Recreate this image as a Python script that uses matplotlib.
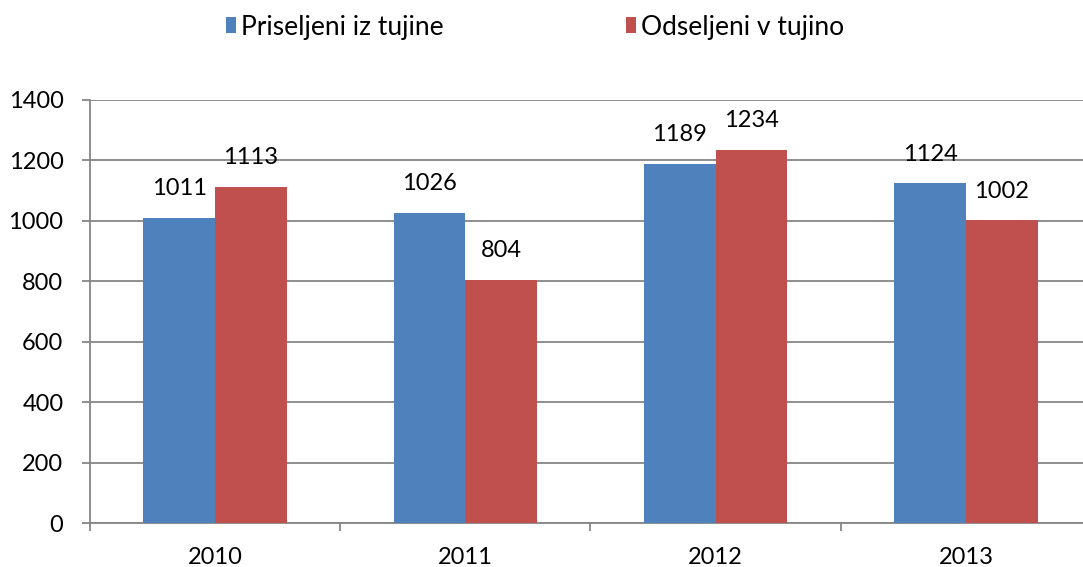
import matplotlib
matplotlib.use("Agg")
import matplotlib.pyplot as plt
import numpy as np

years = ["2010", "2011", "2012", "2013"]
priseljeni = [1011, 1026, 1189, 1124]
odseljeni = [1113, 804, 1234, 1002]
series_names = ["Priseljeni iz tujine", "Odseljeni v tujino"]
yticks = [0, 200, 400, 600, 800, 1000, 1200, 1400]

blue = "#4F81BD"
red = "#C0504D"
grid_c = "#868686"
font = ["Lato", "DejaVu Sans"]
plt.rcParams['font.family'] = font
FS = 17

fig = plt.figure(figsize=(10.83, 5.67), dpi=100)
ax = fig.add_axes([89.8/1083, 1-523/567, 1001.3/1083, 423/567])

x = np.arange(len(years))
w = 0.286
b1 = ax.bar(x - w/2, priseljeni, w, color=blue, label=series_names[0], zorder=3)
b2 = ax.bar(x + w/2, odseljeni, w, color=red, label=series_names[1], zorder=3)

for bars, vals in ((b1, priseljeni), (b2, odseljeni)):
    for r, v in zip(bars, vals):
        ax.annotate(str(v), (r.get_x() + r.get_width()/2, v), xytext=(0, 21),
                    textcoords="offset points", ha="center", va="center",
                    fontsize=FS, color="black", zorder=4)

ax.set_xlim(-0.5, len(years) - 0.5)
ax.set_ylim(0, 1400)
ax.set_yticks(yticks)
ax.set_yticklabels([str(t) for t in yticks], fontsize=FS)
ax.yaxis.grid(True, color=grid_c, linewidth=1.3, zorder=0)
ax.set_xticks(x)
ax.set_xticklabels(years, fontsize=FS)
ax.tick_params(axis="x", length=0, pad=17)
ax.set_xticks(np.arange(len(years) + 1) - 0.5, minor=True)
ax.tick_params(axis="x", which="minor", length=6, color=grid_c, width=1.3)
ax.tick_params(axis="y", length=6, color=grid_c, width=1.3, pad=13)
for s in ("top", "right"):
    ax.spines[s].set_visible(False)
for s in ("left", "bottom"):
    ax.spines[s].set_color(grid_c)
    ax.spines[s].set_linewidth(1.3)

fig.legend(handles=[b1, b2], labels=series_names, loc="center", bbox_to_anchor=(0.494, 1-27/567),
           ncol=2, frameon=False, fontsize=19, handlelength=0.4, handleheight=0.52,
           handletextpad=0.18, columnspacing=6.9)

fig.savefig("out.png", dpi=100)
